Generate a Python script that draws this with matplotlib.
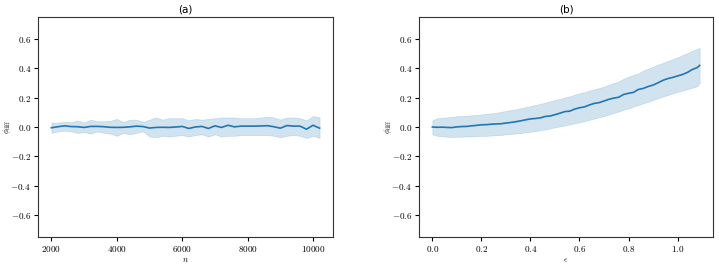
import numpy as np
import matplotlib
matplotlib.use("Agg")
import matplotlib.pyplot as plt
from matplotlib.ticker import FuncFormatter

plt.rcParams["mathtext.fontset"] = "cm"

# panel (a): phi_diff against n
n_vals = list(range(2000, 10201, 200))
mean_a = [-0.005, 0.002, 0.008, 0.003, 0.002, -0.003, 0.004, 0.004, 0.002, -0.002,
          -0.003, -0.002, 0.001, 0.006, 0.003, -0.007, -0.003, -0.002, -0.003, 0.000,
          0.004, -0.010, 0.000, 0.004, -0.010, 0.008, -0.003, 0.012, 0.001, 0.006,
          0.006, 0.006, 0.007, 0.009, 0.002, -0.008, 0.010, 0.006, 0.006, -0.015,
          0.012, -0.008]
upper_a = [0.030, 0.030, 0.035, 0.033, 0.045, 0.030, 0.050, 0.040, 0.040, 0.042,
           0.055, 0.035, 0.050, 0.050, 0.035, 0.050, 0.065, 0.050, 0.060, 0.060,
           0.060, 0.045, 0.055, 0.050, 0.055, 0.060, 0.065, 0.065, 0.065, 0.060,
           0.060, 0.060, 0.065, 0.070, 0.065, 0.050, 0.065, 0.065, 0.060, 0.045,
           0.075, 0.065]
lower_a = [-0.040, -0.030, -0.025, -0.030, -0.040, -0.035, -0.045, -0.030, -0.040, -0.045,
           -0.060, -0.040, -0.050, -0.040, -0.030, -0.065, -0.070, -0.060, -0.065, -0.060,
           -0.055, -0.065, -0.055, -0.050, -0.065, -0.050, -0.065, -0.060, -0.060, -0.055,
           -0.055, -0.055, -0.055, -0.055, -0.060, -0.070, -0.060, -0.055, -0.060, -0.075,
           -0.060, -0.075]

# panel (b): phi_diff against epsilon
eps_vals = [0.00, 0.02, 0.04, 0.06, 0.08, 0.10, 0.12, 0.14, 0.16, 0.18,
            0.20, 0.22, 0.24, 0.26, 0.28, 0.30, 0.32, 0.34, 0.36, 0.38,
            0.40, 0.42, 0.44, 0.46, 0.48, 0.50, 0.52, 0.54, 0.56, 0.58,
            0.60, 0.62, 0.64, 0.66, 0.68, 0.70, 0.72, 0.74, 0.76, 0.78,
            0.80, 0.82, 0.84, 0.86, 0.88, 0.90, 0.92, 0.94, 0.96, 0.98,
            1.00, 1.02, 1.04, 1.06, 1.08, 1.09]
mean_b = [0.000, -0.002, -0.001, -0.003, -0.004, 0.001, 0.003, 0.004, 0.008, 0.011,
          0.015, 0.016, 0.019, 0.021, 0.022, 0.027, 0.031, 0.036, 0.042, 0.049,
          0.055, 0.058, 0.062, 0.072, 0.075, 0.084, 0.094, 0.105, 0.108, 0.122,
          0.131, 0.137, 0.150, 0.161, 0.166, 0.177, 0.189, 0.197, 0.203, 0.222,
          0.230, 0.236, 0.256, 0.263, 0.276, 0.286, 0.301, 0.318, 0.330, 0.338,
          0.348, 0.358, 0.372, 0.392, 0.405, 0.420]
upper_b = [0.045, 0.060, 0.063, 0.066, 0.070, 0.073, 0.075, 0.077, 0.080, 0.082,
           0.086, 0.089, 0.093, 0.097, 0.103, 0.110, 0.116, 0.120, 0.128, 0.135,
           0.143, 0.150, 0.158, 0.166, 0.175, 0.184, 0.191, 0.202, 0.209, 0.220,
           0.230, 0.237, 0.248, 0.256, 0.266, 0.275, 0.288, 0.300, 0.310, 0.330,
           0.343, 0.355, 0.365, 0.385, 0.398, 0.410, 0.425, 0.437, 0.450, 0.462,
           0.475, 0.490, 0.503, 0.520, 0.533, 0.540]
lower_b = [-0.050, -0.060, -0.063, -0.066, -0.068, -0.066, -0.067, -0.064, -0.065, -0.062,
           -0.060, -0.061, -0.058, -0.056, -0.054, -0.050, -0.048, -0.044, -0.042, -0.036,
           -0.032, -0.028, -0.022, -0.017, -0.010, -0.002, 0.004, 0.010, 0.018, 0.025,
           0.032, 0.040, 0.048, 0.058, 0.066, 0.075, 0.085, 0.096, 0.106, 0.118,
           0.127, 0.140, 0.150, 0.162, 0.172, 0.184, 0.196, 0.208, 0.218, 0.229,
           0.240, 0.248, 0.258, 0.268, 0.278, 0.300]

yticks = [-0.6, -0.4, -0.2, 0.0, 0.2, 0.4, 0.6]

fig = plt.figure(figsize=(7.19, 2.65), dpi=100)
ax1 = fig.add_axes([38 / 719, 28 / 265, 295 / 719, 220 / 265])
ax2 = fig.add_axes([419 / 719, 28 / 265, 294 / 719, 220 / 265])

panels = [
    (ax1, n_vals, mean_a, lower_a, upper_a, "(a)", r"$n$", "{:.0f}"),
    (ax2, eps_vals, mean_b, lower_b, upper_b, "(b)", r"$\epsilon$", "{:.1f}"),
]
for ax, x, m, lo, hi, title, xlab, xfmt in panels:
    ax.fill_between(x, lo, hi, color="C0", alpha=0.2, linewidth=0.5)
    ax.plot(x, m, color="C0", linewidth=1.2)
    ax.set_ylim(-0.75, 0.75)
    ax.set_yticks(yticks)
    ax.yaxis.set_major_formatter(FuncFormatter(lambda v, p: "${:.1f}$".format(v)))
    ax.xaxis.set_major_formatter(FuncFormatter(lambda v, p, f=xfmt: "$" + f.format(v) + "$"))
    ax.tick_params(labelsize=6.6, length=3, width=0.8, pad=2)
    ax.set_title(title, fontsize=7.5, pad=3)
    ax.set_xlabel(xlab, fontsize=6, labelpad=1)
    ax.set_ylabel(r"$\phi_{\mathrm{diff}}$", fontsize=5.5)
    ax.yaxis.set_label_coords(-0.085, 0.5)
    for s in ax.spines.values():
        s.set_color("#333333")

ax1.set_xticks([2000, 4000, 6000, 8000, 10000])
ax2.set_xticks([0.0, 0.2, 0.4, 0.6, 0.8, 1.0])

fig.savefig("out.png", dpi=100)
